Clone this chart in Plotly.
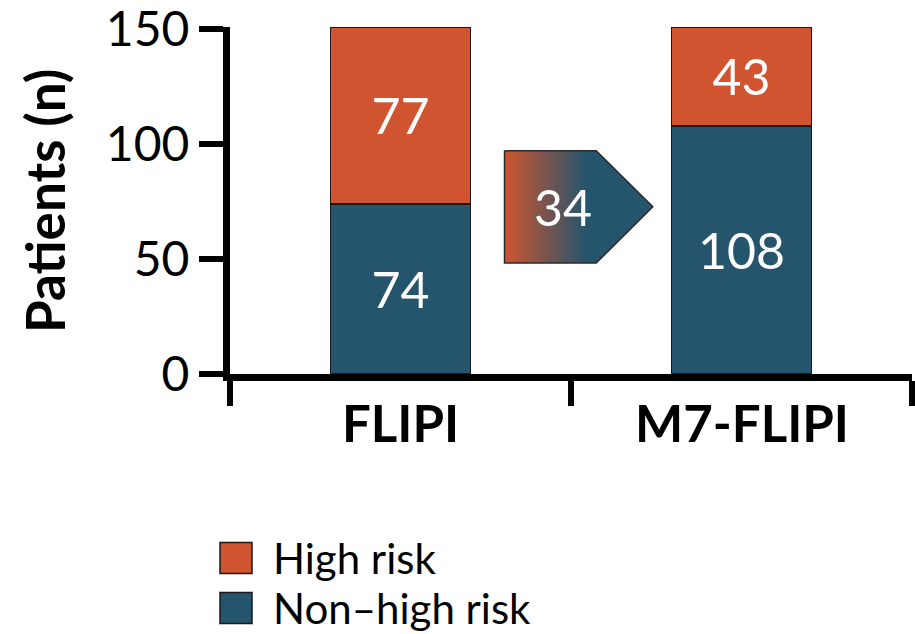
import plotly.graph_objects as go

# ---- data ----
categories = ["FLIPI", "M7-FLIPI"]
series_names = ["High risk", "Non\u2013high risk"]
high_risk = [77, 43]
non_high_risk = [74, 108]
reclassified = 34
y_ticks = [0, 50, 100, 150]

ORANGE = "#D0542F"
TEAL = "#24556D"
OUTLINE = "#1a1a1a"
FONT = "Lato"

# layout geometry (pixels)
W, H = 915, 634
L, R, T, B = 230, 3, 27, 260
PW, PH = W - L - R, H - T - B


def px_x(p):
    return (p - L) / PW


def px_y(p):
    return (H - B - p) / PH


x_pos = list(range(len(categories)))

fig = go.Figure()
fig.add_trace(go.Bar(
    x=x_pos, y=non_high_risk, name=series_names[1], width=0.41,
    marker=dict(color=TEAL, line=dict(color=OUTLINE, width=1.5)),
    text=[str(v) for v in non_high_risk], textposition="inside",
    insidetextanchor="middle", textangle=0,
    textfont=dict(family=FONT, size=50, color="white"),
    constraintext="none", showlegend=False,
))
fig.add_trace(go.Bar(
    x=x_pos, y=high_risk, name=series_names[0], width=0.41,
    marker=dict(color=ORANGE, line=dict(color=OUTLINE, width=1.5)),
    text=[str(v) for v in high_risk], textposition="inside",
    insidetextanchor="middle", textangle=0,
    textfont=dict(family=FONT, size=50, color="white"),
    constraintext="none", showlegend=False,
))

# ---- reclassification arrow (gradient filled pentagon) ----
ax_l, ax_r, ax_tip = 0.305, 0.574, 0.740
ay_mid, ay_half = 72.75, 24.45
fig.add_trace(go.Scatter(
    x=[ax_l, ax_r, ax_tip, ax_r, ax_l, ax_l],
    y=[ay_mid + ay_half, ay_mid + ay_half, ay_mid, ay_mid - ay_half, ay_mid - ay_half, ay_mid + ay_half],
    mode="lines", fill="toself",
    line=dict(color="#2a2a2a", width=1.5),
    fillgradient=dict(type="horizontal",
                      colorscale=[[0, ORANGE], [0.55, TEAL], [1, TEAL]]),
    hoverinfo="skip", showlegend=False,
))
fig.add_annotation(x=0.477, y=ay_mid, xref="x", yref="y", text=str(reclassified),
                   showarrow=False, font=dict(family=FONT, size=50, color="white"))

# ---- category labels ----
for xi, c in zip(x_pos, categories):
    fig.add_annotation(x=xi, y=px_y(422), xref="x", yref="paper", text=f"<b>{c}</b>",
                       showarrow=False, xanchor="center", yanchor="middle",
                       font=dict(family=FONT, size=51, color="black"))

# ---- y title ----
fig.add_annotation(xref="paper", yref="paper", x=px_x(44), y=px_y(201),
                   xanchor="center", yanchor="middle",
                   text="<b>Patients (n)</b>", textangle=-90, showarrow=False,
                   font=dict(family=FONT, size=53, color="black"))

# ---- legend (manual) ----
legend_colors = [ORANGE, TEAL]
legend_rows = [558, 608]
for name, col, yc in zip(series_names, legend_colors, legend_rows):
    fig.add_shape(type="rect", xref="paper", yref="paper",
                  x0=px_x(220), x1=px_x(252),
                  y0=px_y(yc - 15.5), y1=px_y(yc + 15.5),
                  fillcolor=col, line=dict(color=OUTLINE, width=1.5))
    fig.add_annotation(xref="paper", yref="paper", x=px_x(271), y=px_y(yc),
                       xanchor="left", yanchor="middle", text=name, showarrow=False,
                       font=dict(family=FONT, size=42, color="black"))

fig.update_layout(
    barmode="stack",
    width=W, height=H,
    margin=dict(l=L, r=R, t=T, b=B, autoexpand=False),
    paper_bgcolor="white", plot_bgcolor="white",
    showlegend=False,
    font=dict(family=FONT, color="black"),
)
fig.update_xaxes(
    range=[-0.5, 1.5], tickvals=x_pos, showticklabels=False,
    ticks="", showgrid=False, zeroline=False, automargin=False,
    showline=True, linecolor="black", linewidth=7,
    minor=dict(tick0=-0.5, dtick=1, ticks="outside", ticklen=25, tickwidth=6,
               tickcolor="black", showgrid=False),
)
fig.update_yaxes(
    range=[0, 151], tickvals=y_ticks, ticks="outside", ticklen=24, tickwidth=6,
    tickcolor="black", showgrid=False, zeroline=False, automargin=False,
    showline=True, linecolor="black", linewidth=7,
    tickfont=dict(family=FONT, size=48, color="black"),
    ticklabelstandoff=0, ticklabeloverflow="allow",
)

fig.write_html("out.html", config={"displayModeBar": False},
               post_script="document.body.style.margin='0px';document.body.style.overflow='hidden';")
